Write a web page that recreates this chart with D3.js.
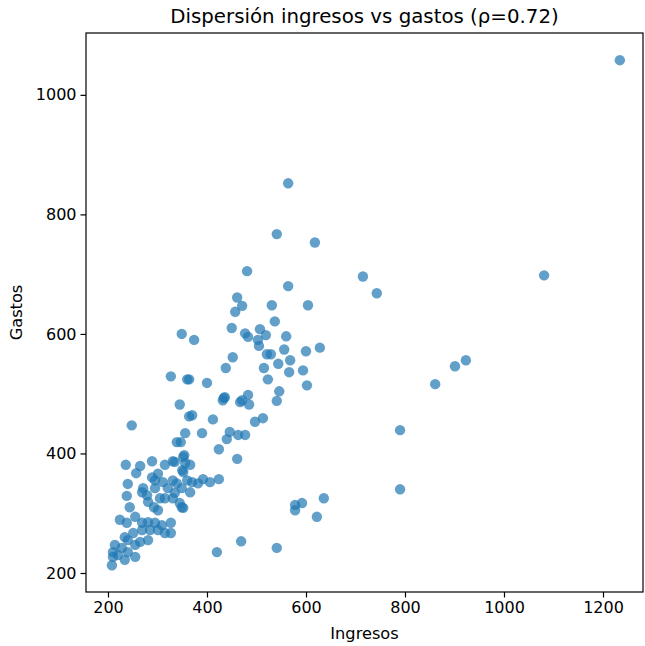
<!DOCTYPE html>
<html>
<head>
<meta charset="utf-8">
<script src="https://cdn.jsdelivr.net/npm/d3@7"></script>
<style>
  body { margin: 0; background: #fff; }
  svg text { font-family: "DejaVu Sans", sans-serif; fill: #000; }
</style>
</head>
<body>
<div id="app"></div>
<script>
// ingresos (x) and gastos (y)
const ingresos = [
  1234, 1081, 715, 743, 790, 790, 861, 901, 923, 636, 622, 578, 592, 578, 420, 469, 541,
  432, 467, 541, 370, 412, 390, 446, 440, 463, 477, 497, 513, 424, 461, 392, 406, 424,
  628,
  564, 541, 618, 481, 564, 461, 471, 457, 531, 604,
  537, 450, 477, 483, 507, 519, 503, 505, 560, 349, 374, 521, 529, 556, 600, 452, 438,
  515, 544, 568, 566, 594, 360, 364, 400, 523, 602, 546, 434, 436, 471, 483, 485, 345,
  327,
  248, 364, 356, 339, 347, 354, 335, 236, 265, 257, 289, 315, 301, 350, 240, 289, 295, 269,
  238, 244, 281, 293, 301, 315, 335, 345, 352, 224, 238, 255, 269, 281, 295, 309, 327,
  327, 315, 301, 285, 269, 251, 234, 240, 265, 281, 255, 214, 210, 210, 220, 234, 240,
  255, 208, 228,
  331, 352, 356, 366, 352, 311, 331, 339, 360, 370, 382, 271, 295, 321, 349, 366, 279,
  305, 331, 349
];
const gastos = [
  1058, 698, 696, 668, 439, 340, 516, 546, 556, 325, 294, 314, 317, 305, 235, 253, 242,
  489, 486, 488, 464, 457, 434, 436, 424, 431, 431, 453, 459, 407, 391, 357, 352, 357,
  577,
  852, 767, 753, 705, 680, 661, 647, 637, 648, 648,
  621, 610, 601, 595, 608, 598, 590, 580, 596, 600, 590, 566, 566, 574, 571, 561, 543,
  543, 550, 556, 536, 539, 524, 524, 518, 524, 514, 504, 493, 494, 489, 498, 482, 482,
  529,
  447, 462, 434, 419, 419, 397, 386, 381, 379, 367, 387, 381, 366, 372, 349, 360, 355, 335,
  329, 310, 319, 310, 305, 325, 334, 317, 309, 289, 284, 294, 284, 285, 284, 280, 284,
  267, 267, 272, 272, 272, 267, 260, 255, 252, 255, 247, 247, 235, 227, 230, 222, 235,
  227, 213, 242,
  387, 394, 384, 381, 369, 352, 355, 350, 355, 352, 350, 342, 342, 342, 342, 335, 330,
  325, 325, 310
];
const xTicks = [200, 400, 600, 800, 1000, 1200];
const yTicks = [200, 400, 600, 800, 1000];

const width = 645, height = 646;
const margin = { top: 33, right: 2, bottom: 54, left: 86 };

const svg = d3.select('#app').append('svg')
    .attr('width', width)
    .attr('height', height);

const x = d3.scaleLinear()
    .domain([155.6, 1280.8])
    .range([margin.left, width - margin.right]);

const y = d3.scaleLinear()
    .domain([168.2, 1103.5])
    .range([height - margin.bottom, margin.top]);

// points
svg.append('g')
  .selectAll('circle')
  .data(ingresos.map((d, i) => [d, gastos[i]]))
  .enter().append('circle')
    .attr('cx', d => x(d[0]))
    .attr('cy', d => y(d[1]))
    .attr('r', 5.2)
    .attr('fill', '#1f77b4')
    .attr('fill-opacity', 0.7);

// axes
const xAxis = svg.append('g')
    .attr('transform', `translate(0,${height - margin.bottom})`)
    .call(d3.axisBottom(x).tickValues(xTicks).tickFormat(d3.format('d')).tickSize(5.5).tickPadding(4));

const yAxis = svg.append('g')
    .attr('transform', `translate(${margin.left},0)`)
    .call(d3.axisLeft(y).tickValues(yTicks).tickFormat(d3.format('d')).tickSize(5.5).tickPadding(4));

[xAxis, yAxis].forEach(g => {
  g.select('.domain').remove();
  g.selectAll('line').attr('stroke', '#000').attr('stroke-width', 1.2);
  g.selectAll('text').style('font-size', '16px').attr('fill', '#000');
});

// frame
svg.append('rect')
    .attr('x', margin.left)
    .attr('y', margin.top)
    .attr('width', width - margin.left - margin.right)
    .attr('height', height - margin.top - margin.bottom)
    .attr('fill', 'none')
    .attr('stroke', '#000')
    .attr('stroke-width', 1.2);

// labels
svg.append('text')
    .attr('x', (margin.left + width - margin.right) / 2)
    .attr('y', 639)
    .attr('text-anchor', 'middle')
    .style('font-size', '16.2px')
    .text('Ingresos');

svg.append('text')
    .attr('transform', `translate(22,${(margin.top + height - margin.bottom) / 2}) rotate(-90)`)
    .attr('text-anchor', 'middle')
    .style('font-size', '16.2px')
    .text('Gastos');

svg.append('text')
    .attr('x', (margin.left + width - margin.right) / 2)
    .attr('y', 23)
    .attr('text-anchor', 'middle')
    .style('font-size', '19.8px')
    .text('Dispersión ingresos vs gastos (ρ=0.72)');
</script>
</body>
</html>
